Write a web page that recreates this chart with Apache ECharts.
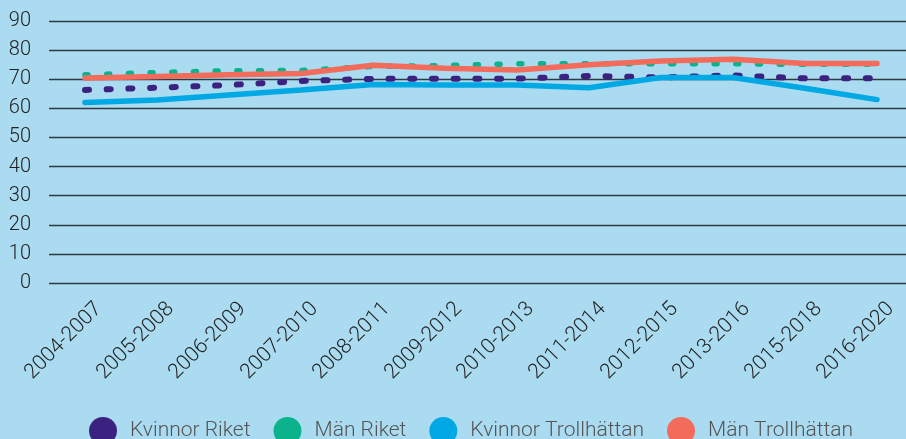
<!DOCTYPE html>
<html>
<head>
<meta charset="utf-8">
<title>Andel</title>
<script src="https://cdn.jsdelivr.net/npm/echarts@6/dist/echarts.min.js"></script>
<style>
  html, body { margin: 0; padding: 0; background: #aadbf0; overflow: hidden; }
  /* plot area runs a bit past the right edge of the window, as in the original */
  #chart { width: 913px; height: 439px; }
</style>
</head>
<body>
<div id="chart"></div>
<script>
// periods on the x axis
var periods = ['2004-2007', '2005-2008', '2006-2009', '2007-2010', '2008-2011', '2009-2012',
  '2010-2013', '2011-2014', '2012-2015', '2013-2016', '2015-2018', '2016-2020'];

// series values
var kvinnorRiket = [66.3, 67.1, 68, 69.4, 70.1, 70.2, 70.2, 71.1, 70.6, 71.3, 70.3, 70.3];
var manRiket = [71.5, 72.3, 72.9, 73, 74.4, 74.7, 75.3, 75.3, 75.3, 75.3, 75.1, 75.2];
var kvinnorTrollhattan = [62, 62.9, 64.6, 66.3, 68.2, 68, 68, 67.1, 70.6, 70.6, 66.9, 63];
var manTrollhattan = [70.4, 70.9, 71.5, 72, 74.8, 73.8, 73.2, 75, 76.3, 76.9, 75.4, 75.4];

var seriesNames = ['Kvinnor Riket', 'Män Riket', 'Kvinnor Trollhättan', 'Män Trollhättan'];
var colors = ['#3b2180', '#0ab38c', '#00a8e4', '#f26b5b'];

var chart = echarts.init(document.getElementById('chart'));

function makeLine(name, data, color, width, dash) {
  return {
    name: name,
    type: 'line',
    data: data,
    symbol: 'none',
    smooth: false,
    lineStyle: {
      color: color,
      width: width,
      type: dash || 'solid',
      cap: 'round'
    },
    itemStyle: { color: color }
  };
}

var option = {
  backgroundColor: '#aadbf0',
  animation: false,
  textStyle: { fontFamily: 'Roboto', fontWeight: 300 },
  grid: { left: 49, right: 0, top: 21, bottom: 156 },
  legend: {
    data: seriesNames.map(function (n) { return { name: n, icon: 'circle' }; }),
    left: 84,
    top: 412,
    itemWidth: 28,
    itemHeight: 28,
    itemGap: 23,
    textStyle: {
      color: '#555',
      fontSize: 21,
      fontFamily: 'Roboto',
      fontWeight: 300,
      padding: [0, 0, 0, 8]
    }
  },
  xAxis: {
    type: 'category',
    data: periods,
    boundaryGap: true,
    axisLine: { show: false },
    axisTick: { show: false },
    axisLabel: {
      rotate: 45,
      interval: 0,
      margin: 9,
      verticalAlign: 'top',
      padding: [9, 0, 0, 0],
      color: '#222',
      fontSize: 21,
      fontFamily: 'Roboto',
      fontWeight: 300
    }
  },
  yAxis: {
    type: 'value',
    min: 0,
    max: 90,
    interval: 10,
    axisLine: { show: false },
    axisTick: { show: false },
    axisLabel: { color: '#222', fontSize: 20, margin: 18, fontFamily: 'Roboto', fontWeight: 300 },
    splitLine: { lineStyle: { color: '#2e3a44', width: 1.3 } }
  },
  series: [
    makeLine(seriesNames[0], kvinnorRiket, colors[0], 6, [4, 17.7]),
    makeLine(seriesNames[1], manRiket, colors[1], 5.5, [3, 18.7]),
    makeLine(seriesNames[2], kvinnorTrollhattan, colors[2], 5.5),
    makeLine(seriesNames[3], manTrollhattan, colors[3], 5.5)
  ]
};

chart.setOption(option);
</script>
</body>
</html>
